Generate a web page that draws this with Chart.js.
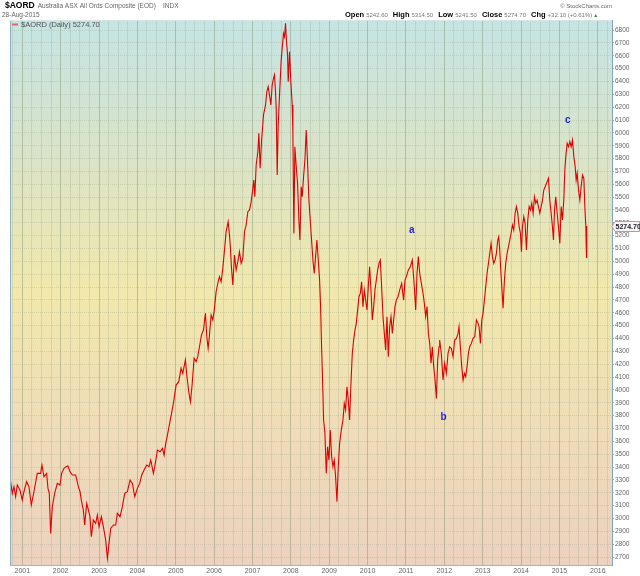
<!DOCTYPE html>
<html>
<head>
<meta charset="utf-8">
<script src="https://cdn.jsdelivr.net/npm/chart.js@4.4.0/dist/chart.umd.min.js"></script>
<style>
  html, body { margin: 0; padding: 0; background: #fff; }
  #wrap { width: 640px; height: 576px; }
</style>
</head>
<body>
<div id="wrap"><canvas id="c" width="640" height="576"></canvas></div>
<script>
// $AORD daily close (dates as decimal years)
const dates = [
  2000.696, 2000.739, 2000.783, 2000.826, 2000.870, 2000.939, 2001.000, 2001.043, 2001.113, 2001.174,
  2001.235, 2001.304, 2001.391, 2001.478, 2001.513, 2001.565, 2001.635, 2001.670, 2001.704, 2001.739,
  2001.783, 2001.844, 2001.913, 2001.983, 2002.026, 2002.087, 2002.139, 2002.191, 2002.244, 2002.305,
  2002.392, 2002.452, 2002.505, 2002.539, 2002.591, 2002.626, 2002.679, 2002.713, 2002.765, 2002.800,
  2002.852, 2002.913, 2002.957, 2003.000, 2003.061, 2003.113, 2003.174, 2003.218, 2003.261, 2003.305,
  2003.374, 2003.435, 2003.478, 2003.548, 2003.609, 2003.670, 2003.739, 2003.809, 2003.870, 2003.931,
  2004.000, 2004.061, 2004.113, 2004.174, 2004.244, 2004.305, 2004.348, 2004.418, 2004.452, 2004.522,
  2004.592, 2004.653, 2004.696, 2004.739, 2004.783,
  2004.939, 2005.009, 2005.078, 2005.139, 2005.183, 2005.252, 2005.287, 2005.339, 2005.383, 2005.426,
  2005.478, 2005.531, 2005.574, 2005.618, 2005.670, 2005.722, 2005.774, 2005.809, 2005.844, 2005.879,
  2005.922, 2005.966, 2006.009, 2006.052, 2006.105, 2006.139, 2006.183, 2006.226, 2006.270, 2006.313,
  2006.366, 2006.400, 2006.426, 2006.453, 2006.487, 2006.531, 2006.574, 2006.618, 2006.661, 2006.705,
  2006.748, 2006.792, 2006.835, 2006.879, 2006.922, 2006.966, 2007.009, 2007.035, 2007.061, 2007.096,
  2007.140, 2007.166, 2007.200, 2007.235, 2007.287, 2007.340, 2007.374, 2007.409, 2007.444, 2007.479,
  2007.513, 2007.548, 2007.574, 2007.600, 2007.618, 2007.644, 2007.670, 2007.705, 2007.748, 2007.774,
  2007.809, 2007.835, 2007.861, 2007.887, 2007.914, 2007.931, 2007.966, 2008.000, 2008.035,
  2008.053, 2008.079, 2008.105, 2008.140, 2008.175, 2008.209, 2008.236, 2008.270, 2008.296, 2008.331,
  2008.366, 2008.401, 2008.436, 2008.470, 2008.505, 2008.540, 2008.575, 2008.610, 2008.644, 2008.679,
  2008.714, 2008.749, 2008.775, 2008.801, 2008.836, 2008.853, 2008.888, 2008.923, 2008.957, 2008.992,
  2009.027, 2009.062, 2009.097, 2009.131, 2009.166, 2009.201, 2009.236, 2009.271, 2009.314, 2009.358,
  2009.392, 2009.427, 2009.462, 2009.497, 2009.531, 2009.566, 2009.601, 2009.636, 2009.671, 2009.705,
  2009.749, 2009.775, 2009.810, 2009.844, 2009.879, 2009.914, 2009.949, 2009.984, 2010.018, 2010.053,
  2010.088, 2010.123, 2010.158, 2010.192, 2010.227, 2010.262, 2010.297, 2010.331, 2010.366, 2010.401,
  2010.436, 2010.471, 2010.505, 2010.540, 2010.575, 2010.610, 2010.645, 2010.679, 2010.714, 2010.749,
  2010.792, 2010.836, 2010.888, 2010.940, 2010.975, 2011.010, 2011.062, 2011.114, 2011.166, 2011.218,
  2011.253, 2011.288, 2011.323, 2011.358, 2011.401, 2011.445, 2011.479, 2011.514, 2011.549, 2011.584,
  2011.619, 2011.653, 2011.688, 2011.723, 2011.758, 2011.793, 2011.827, 2011.862,
  2011.879, 2011.922, 2011.966, 2012.009, 2012.053, 2012.096, 2012.140, 2012.183, 2012.227, 2012.270,
  2012.314, 2012.357, 2012.383, 2012.418, 2012.453, 2012.488, 2012.523, 2012.557, 2012.592, 2012.627,
  2012.662, 2012.705, 2012.749, 2012.792, 2012.836, 2012.879, 2012.905, 2012.940, 2012.975, 2013.010,
  2013.044, 2013.079, 2013.114, 2013.149, 2013.184, 2013.218, 2013.253, 2013.288, 2013.323, 2013.357,
  2013.392, 2013.418, 2013.444, 2013.471, 2013.497, 2013.531, 2013.566, 2013.601, 2013.636, 2013.671,
  2013.705, 2013.740, 2013.775, 2013.810, 2013.845, 2013.879, 2013.914, 2013.949, 2013.984, 2014.010,
  2014.036, 2014.071, 2014.105, 2014.140, 2014.175, 2014.210, 2014.245, 2014.279, 2014.314, 2014.349,
  2014.384, 2014.418, 2014.453, 2014.488, 2014.523, 2014.558, 2014.592, 2014.627, 2014.662, 2014.697,
  2014.714, 2014.749, 2014.784, 2014.818, 2014.845, 2014.871, 2014.905, 2014.940, 2014.975, 2015.010,
  2015.045, 2015.079, 2015.114, 2015.140, 2015.166, 2015.201, 2015.236, 2015.271, 2015.305, 2015.340,
  2015.375, 2015.410, 2015.436, 2015.462, 2015.497, 2015.532, 2015.566, 2015.601, 2015.636, 2015.662,
  2015.688, 2015.705, 2015.712
];

const closes = [
  3286, 3195, 3247, 3169, 3260, 3221, 3143, 3208, 3286, 3247,
  3105, 3208, 3351, 3351, 3416, 3325, 3351, 3234, 3195, 2884,
  3092, 3195, 3273, 3260, 3351, 3390, 3403, 3408, 3364, 3338,
  3338, 3260, 3208, 3143, 3066, 2949, 3117, 3079, 3014, 2858,
  2988, 2962, 3027, 2936, 3014, 2936, 2832, 2690, 2806, 2923,
  2949, 2949, 3040, 3014, 3092, 3195, 3208, 3299, 3273, 3169,
  3234, 3273, 3338, 3377, 3416, 3403, 3455, 3351, 3403, 3532,
  3519, 3545, 3493, 3584, 3649,
  3896, 4038, 4064, 4168, 4129, 4233, 4116, 3986, 3908, 4038,
  4246, 4220, 4259, 4336, 4427, 4466, 4596, 4414, 4323, 4427,
  4583, 4544, 4635, 4764, 4842, 4881, 4842, 4946, 5088, 5231,
  5309, 5205, 5101, 4946, 4816, 5050, 4933, 4998, 5075, 4985,
  5024, 5231, 5283, 5387, 5400, 5464, 5568, 5633, 5503, 5750,
  5853, 5996, 5724, 5931, 6139, 6217, 6320, 6359, 6294, 6217,
  6372, 6424, 6450, 6320, 6191, 5672, 6061, 6294, 6567, 6657,
  6774, 6748, 6852, 6709, 6605, 6398, 6631, 6398, 6217,
  5996, 5218, 5892, 5737, 5607, 5322, 5166, 5581, 5503, 5659,
  5789, 6022, 5763, 5477, 5322, 5166, 5011, 4907, 5037, 5166,
  5011, 4855, 4648, 4336, 3973, 3766, 3662, 3351, 3558, 3455,
  3688, 3481, 3403, 3455, 3325, 3130, 3403, 3584, 3688, 3766,
  3895, 3844, 4025, 3922, 3766, 4051, 4284, 4388, 4466, 4518,
  4648, 4725, 4751, 4842, 4648, 4777, 4699, 4622, 4803, 4959,
  4777, 4544, 4648, 4777, 4855, 4933, 4985, 5011, 4803, 4570,
  4440, 4310, 4570, 4259, 4492, 4570, 4440, 4544, 4648, 4699,
  4725, 4777, 4829, 4699, 4855, 4881, 4933, 4959, 5011, 4803,
  4622, 4907, 5037, 4907, 4829, 4751, 4673, 4570, 4648, 4440,
  4362, 4207, 4336, 4181, 4077, 3934, 4233, 4336,
  4388, 4284, 4077, 4207, 4129, 4284, 4336, 4323, 4259, 4388,
  4401, 4440, 4492, 4336, 4181, 4077, 4129, 4103, 4181, 4284,
  4336, 4362, 4401, 4414, 4544, 4518, 4492, 4362, 4544, 4596,
  4699, 4803, 4907, 4985, 5063, 5140, 5037, 4985, 5011, 5063,
  5166, 5192, 5089, 4933, 4803, 4635, 4855, 4985, 5063, 5114,
  5166, 5218, 5283, 5244, 5374, 5426, 5374, 5270, 5218, 5075,
  5270, 5348, 5296, 5089, 5322, 5426, 5400, 5451, 5374, 5503,
  5451, 5477, 5426, 5374, 5426, 5477, 5555, 5581, 5607, 5633,
  5646, 5477, 5374, 5270, 5166, 5400, 5503, 5374, 5270, 5140,
  5426, 5322, 5477, 5711, 5815, 5918, 5892, 5931, 5892, 5944,
  5815, 5737, 5633, 5685, 5555, 5477, 5581, 5672, 5646, 5426,
  5270, 5030, 5274.70
];

// wave labels drawn on the chart
const waveLabels = ['a', 'b', 'c'];
const waveDates = [2011.15, 2011.98, 2015.22];
const waveValues = [5244, 3789, 6100];

const yearTicks = [2001, 2016];
const priceMin = 2638;
const priceMax = 6878;

const lastClose = 5274.70;
const quote = [
  ['Open', '5242.60'], ['High', '5314.50'], ['Low', '5241.50'],
  ['Close', '5274.70'], ['Chg', '+32.10 (+0.61%)']
];

const FONT = '"Liberation Sans", Arial, sans-serif';

const decor = {
  id: 'decor',
  beforeDraw(chart) {
    const { ctx, chartArea: a } = chart;
    const g = ctx.createLinearGradient(0, a.top, 0, a.bottom);
    g.addColorStop(0, '#c4e4e4');
    g.addColorStop(0.25, '#dae3c8');
    g.addColorStop(0.5, '#f1e8ac');
    g.addColorStop(0.75, '#efdcb8');
    g.addColorStop(1, '#ecd2bf');
    ctx.save();
    ctx.fillStyle = g;
    ctx.fillRect(a.left, a.top, a.right - a.left, a.bottom - a.top);
    ctx.restore();
  },
  afterDraw(chart) {
    const { ctx, chartArea: a, scales } = chart;
    ctx.save();

    // left + top border
    ctx.strokeStyle = '#8fb0c4';
    ctx.lineWidth = 1;
    ctx.beginPath();
    ctx.moveTo(a.left + 0.5, a.top);
    ctx.lineTo(a.left + 0.5, a.bottom);
    ctx.stroke();
    ctx.strokeStyle = '#d9e4e4';
    ctx.beginPath();
    ctx.moveTo(a.left, a.top + 0.5);
    ctx.lineTo(a.right, a.top + 0.5);
    ctx.stroke();

    // header
    ctx.textBaseline = 'alphabetic';
    ctx.fillStyle = '#000';
    ctx.font = 'bold 8.5px ' + FONT;
    ctx.fillText('$AORD', 5, 8);
    const w = ctx.measureText('$AORD').width;
    ctx.fillStyle = '#666';
    ctx.font = '6.5px ' + FONT;
    ctx.fillText('Australia ASX All Ords Composite (EOD)', 5 + w + 3, 8);
    ctx.fillText('INDX', 163, 8);
    ctx.fillText('28-Aug-2015', 2, 16.5);

    ctx.textAlign = 'right';
    ctx.font = '6px ' + FONT;
    ctx.fillText('\u00A9 StockCharts.com', 612, 7.5);

    ctx.textAlign = 'left';
    let x = 345;
    quote.forEach(([k, v]) => {
      ctx.fillStyle = '#000';
      ctx.font = 'bold 7.5px ' + FONT;
      ctx.fillText(k, x, 16.5);
      x += ctx.measureText(k).width + 2;
      ctx.fillStyle = '#777';
      ctx.font = '6px ' + FONT;
      ctx.fillText(v, x, 16.5);
      x += ctx.measureText(v).width + 5;
    });
    ctx.fillStyle = '#2a8a2a';
    ctx.font = '5px ' + FONT;
    ctx.fillText('\u25B2', x - 4, 16.5);

    // legend
    ctx.strokeStyle = '#ee6060';
    ctx.lineWidth = 2;
    ctx.beginPath();
    ctx.moveTo(12, 24.5);
    ctx.lineTo(18, 24.5);
    ctx.stroke();
    ctx.fillStyle = '#555';
    ctx.font = '7.5px ' + FONT;
    ctx.fillText('$AORD (Daily) ' + lastClose.toFixed(2), 21, 27);

    // wave labels
    ctx.fillStyle = '#1f1fe8';
    ctx.font = 'bold 10px ' + FONT;
    ctx.textAlign = 'center';
    ctx.textBaseline = 'middle';
    waveLabels.forEach((t, i) => {
      ctx.fillText(t, scales.x.getPixelForValue(waveDates[i]), scales.y.getPixelForValue(waveValues[i]));
    });

    // last value box on the price axis
    const yy = Math.round(scales.y.getPixelForValue(lastClose));
    ctx.fillStyle = '#fbf3f3';
    ctx.strokeStyle = '#e08a8a';
    ctx.lineWidth = 1;
    ctx.beginPath();
    ctx.moveTo(a.right, yy + 0.5);
    ctx.lineTo(a.right + 3, yy - 4.5);
    ctx.lineTo(639.5, yy - 4.5);
    ctx.lineTo(639.5, yy + 5.5);
    ctx.lineTo(a.right + 3, yy + 5.5);
    ctx.closePath();
    ctx.fill();
    ctx.stroke();
    ctx.fillStyle = '#1a2030';
    ctx.font = 'bold 7px ' + FONT;
    ctx.textAlign = 'left';
    ctx.fillText(lastClose.toFixed(2), a.right + 3.5, yy + 1);

    ctx.restore();
  }
};

const points = dates.map((d, i) => ({ x: d, y: closes[i] }));

new Chart(document.getElementById('c'), {
  type: 'line',
  data: {
    datasets: [{
      label: '$AORD (Daily)',
      data: points,
      borderColor: '#e00000',
      borderWidth: 1.1,
      pointRadius: 0,
      tension: 0,
      fill: false
    }]
  },
  options: {
    responsive: false,
    animation: false,
    events: [],
    layout: { padding: { left: 10, top: 20, right: 0, bottom: 0 } },
    plugins: { legend: { display: false }, tooltip: { enabled: false } },
    scales: {
      x: {
        type: 'linear',
        min: 2000.68,
        max: 2016.37,
        afterFit(scale) { scale.height = 11; },
        border: { display: true, color: '#9fb6c6', width: 1 },
        grid: {
          drawTicks: false,
          color(ctx) {
            const v = ctx.tick ? ctx.tick.value : 0;
            return Math.abs(v - Math.round(v)) < 1e-6 ? 'rgba(120,135,100,0.4)' : 'rgba(130,145,120,0.2)';
          }
        },
        ticks: {
          stepSize: 0.25,
          autoSkip: false,
          maxRotation: 0,
          includeBounds: false,
          padding: 2,
          color: '#666',
          font: { family: FONT, size: 7 },
          callback(v) {
            const r = Math.round(v);
            return Math.abs(v - r) < 1e-6 && r >= yearTicks[0] && r <= yearTicks[1] ? String(r) : '';
          }
        }
      },
      y: {
        position: 'right',
        min: priceMin,
        max: priceMax,
        afterFit(scale) { scale.width = 28; },
        border: { display: true, color: '#7fa5c0', width: 1, dash: [1, 1] },
        grid: {
          color: 'rgba(130,145,120,0.25)',
          tickLength: 2,
          tickColor: '#aaa'
        },
        ticks: {
          stepSize: 100,
          includeBounds: false,
          autoSkip: false,
          padding: 1,
          color: '#666',
          font: { family: FONT, size: 6.5 },
          callback(v) { return String(v); }
        }
      }
    }
  },
  plugins: [decor]
});
</script>
</body>
</html>
